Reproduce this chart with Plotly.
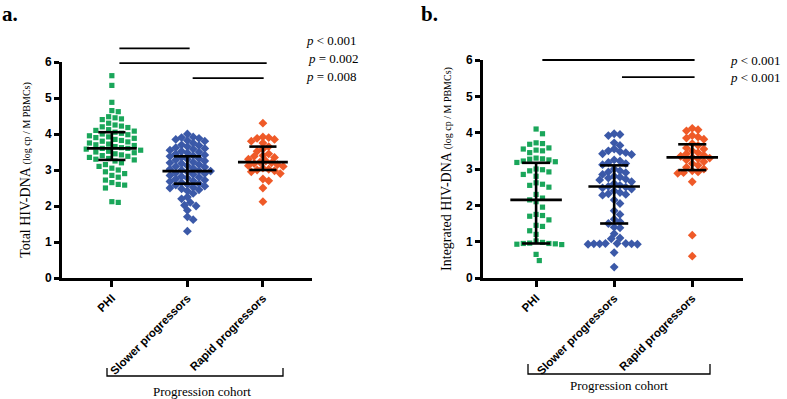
import numpy as np
import plotly.graph_objects as go

categories = ["PHI", "Slower progressors", "Rapid progressors"]
y_ticks = [0, 1, 2, 3, 4, 5, 6]

# Panel a: total HIV-DNA (log cp / M PBMCs)
total_phi = [5.62, 5.35, 4.88, 4.65, 4.62, 4.48, 4.45, 4.42, 4.40, 4.30, 4.25, 4.22, 4.20, 4.18,
             4.12, 4.10, 4.08, 4.05, 4.02, 4.00, 3.98, 3.95, 3.92, 3.90, 3.88, 3.85, 3.82, 3.80,
             3.78, 3.75, 3.72, 3.70, 3.68, 3.65, 3.62, 3.60, 3.60, 3.58, 3.55, 3.52, 3.50, 3.48,
             3.45, 3.42, 3.40, 3.38, 3.35, 3.32, 3.30, 3.28, 3.25, 3.20, 3.15, 3.10, 3.05, 3.00,
             2.95, 2.90, 2.85, 2.80, 2.72, 2.65, 2.60, 2.58, 2.50, 2.12, 2.10]
total_slower = [4.00, 3.92, 3.90, 3.88, 3.85, 3.82, 3.80, 3.75, 3.70, 3.68, 3.65, 3.62, 3.60, 3.58,
                3.55, 3.52, 3.50, 3.48, 3.45, 3.42, 3.40, 3.38, 3.35, 3.32, 3.30, 3.28, 3.25, 3.22,
                3.20, 3.18, 3.15, 3.12, 3.10, 3.08, 3.05, 3.02, 3.00, 2.98, 2.97, 2.95, 2.92, 2.90,
                2.88, 2.85, 2.82, 2.80, 2.78, 2.75, 2.72, 2.70, 2.68, 2.65, 2.62, 2.60, 2.58, 2.55,
                2.52, 2.50, 2.48, 2.45, 2.42, 2.35, 2.25, 2.20, 2.10, 2.02, 2.00, 1.88, 1.70, 1.62, 1.30]
total_rapid = [4.30, 3.92, 3.90, 3.88, 3.85, 3.80, 3.75, 3.65, 3.58, 3.52, 3.45, 3.40, 3.38, 3.35,
               3.30, 3.25, 3.22, 3.20, 3.18, 3.15, 3.12, 3.10, 3.05, 3.02, 3.00, 2.98, 2.95, 2.90,
               2.75, 2.70, 2.50, 2.12]
total_median = [3.60, 2.97, 3.22]
total_q1 = [3.28, 2.62, 3.00]
total_q3 = [4.05, 3.38, 3.65]

# Panel b: integrated HIV-DNA
integ_phi = [4.10, 3.97, 3.72, 3.70, 3.68, 3.58, 3.55, 3.52, 3.50, 3.45, 3.30, 3.28, 3.27, 3.25,
             3.22, 3.20, 3.18, 3.00, 2.98, 2.95, 2.92, 2.85, 2.80, 2.62, 2.58, 2.55, 2.50, 2.30,
             2.20, 2.15, 2.10, 1.95, 1.75, 1.72, 1.70, 1.60, 1.45, 1.42, 1.30, 1.20, 1.02, 0.98,
             0.96, 0.95, 0.95, 0.94, 0.93, 0.92, 0.65, 0.48]
integ_slower = [3.97, 3.95, 3.92, 3.72, 3.65, 3.55, 3.50, 3.48, 3.45, 3.42, 3.40, 3.25, 3.22, 3.18,
                3.15, 3.12, 3.00, 2.95, 2.92, 2.90, 2.85, 2.80, 2.78, 2.75, 2.72, 2.70, 2.65, 2.60,
                2.55, 2.52, 2.50, 2.48, 2.45, 2.40, 2.35, 2.32, 2.30, 2.28, 2.15, 2.05, 1.85, 1.75,
                1.62, 1.55, 1.50, 1.40, 1.38, 1.22, 1.10, 1.08, 0.95, 0.95, 0.95, 0.94, 0.94, 0.94,
                0.93, 0.93, 0.70, 0.30]
integ_rapid = [4.12, 4.08, 4.05, 3.92, 3.88, 3.85, 3.82, 3.70, 3.65, 3.58, 3.55, 3.50, 3.45, 3.42,
               3.38, 3.35, 3.32, 3.30, 3.28, 3.25, 3.20, 3.15, 3.10, 3.05, 3.00, 2.95, 2.92, 2.90,
               2.88, 2.65, 1.18, 0.60]
integ_median = [2.15, 2.52, 3.32]
integ_q1 = [0.95, 1.50, 2.97]
integ_q3 = [3.17, 3.10, 3.68]

# significance bars: (from category, to category, level on value axis)
sig_a = [(0.1, 1.03, 6.38), (0.1, 2.05, 5.97), (1.07, 2.01, 5.55)]
sig_b = [(0.08, 2.03, 6.0), (1.1, 2.03, 5.53)]
p_a = ["<i>p</i> < 0.001", "<i>p</i> = 0.002", "<i>p</i> = 0.008"]
p_b = ["<i>p</i> < 0.001", "<i>p</i> < 0.001"]

colors = ["#1aa65a", "#3b59a8", "#ef5a28"]
symbols = ["square", "diamond", "diamond"]

W, H = 787, 399


def px(rx):
    return rx / W


def py(ry):
    return 1 - ry / H


fig = go.Figure()


def swarm(values, px_x, px_y, d):
    vals = np.array(values, dtype=float)
    order = np.argsort(-vals)
    placed = []
    offs = np.zeros(len(vals))
    cand = [0]
    for k in range(1, 40):
        cand += [k * 0.5, -k * 0.5]
    for i in order:
        yp = vals[i] * px_y
        for k in cand:
            xp = k * d
            ok = True
            for (xq, yq) in placed:
                if (xp - xq) ** 2 + (yp - yq) ** 2 < d * d:
                    ok = False
                    break
            if ok:
                placed.append((xp, yp))
                offs[i] = xp / px_x
                break
    return offs


xdom_a = [px(62), px(312)]
xdom_b = [px(483), px(743)]
ydom_a = [py(278), py(62)]
ydom_b = [py(278), py(60)]
xr_a = [-0.66, 2.65]
xr_b = [-0.68, 2.65]

panels = [
    dict(data=[total_phi, total_slower, total_rapid], med=total_median, q1=total_q1, q3=total_q3,
         xa="x", ya="y", pxx=75.5, pxy=36.0),
    dict(data=[integ_phi, integ_slower, integ_rapid], med=integ_median, q1=integ_q1, q3=integ_q3,
         xa="x2", ya="y2", pxx=78.0, pxy=36.3),
]

for p in panels:
    for ci, vals in enumerate(p["data"]):
        offs = swarm(vals, p["pxx"], p["pxy"], 6.4 if ci == 0 else 5.8)
        fig.add_trace(go.Scatter(
            x=ci + offs, y=vals, mode="markers", xaxis=p["xa"], yaxis=p["ya"],
            marker=dict(symbol=symbols[ci], color=colors[ci], size=5.2 if ci == 0 else 6.8,
                        line=dict(width=0)),
            showlegend=False, hoverinfo="skip", cliponaxis=False))
    for ci in range(3):
        xr, yr = p["xa"], p["ya"]
        lw = 2.6
        fig.add_shape(type="line", xref=xr, yref=yr, x0=ci - 0.33, x1=ci + 0.33,
                      y0=p["med"][ci], y1=p["med"][ci], line=dict(color="black", width=lw))
        fig.add_shape(type="line", xref=xr, yref=yr, x0=ci, x1=ci,
                      y0=p["q1"][ci], y1=p["q3"][ci], line=dict(color="black", width=lw))
        for yy in (p["q1"][ci], p["q3"][ci]):
            fig.add_shape(type="line", xref=xr, yref=yr, x0=ci - 0.18, x1=ci + 0.18,
                          y0=yy, y1=yy, line=dict(color="black", width=lw))


def to_paper_y(v, dom):
    return dom[0] + v / 6.0 * (dom[1] - dom[0])


def to_paper_x(c, dom, rng):
    return dom[0] + (c - rng[0]) / (rng[1] - rng[0]) * (dom[1] - dom[0])


for (a, b, lvl) in sig_a:
    fig.add_shape(type="line", xref="paper", yref="paper",
                  x0=to_paper_x(a, xdom_a, xr_a), x1=to_paper_x(b, xdom_a, xr_a),
                  y0=to_paper_y(lvl, ydom_a), y1=to_paper_y(lvl, ydom_a),
                  line=dict(color="black", width=1.8))
for (a, b, lvl) in sig_b:
    fig.add_shape(type="line", xref="paper", yref="paper",
                  x0=to_paper_x(a, xdom_b, xr_b), x1=to_paper_x(b, xdom_b, xr_b),
                  y0=to_paper_y(lvl, ydom_b), y1=to_paper_y(lvl, ydom_b),
                  line=dict(color="black", width=1.8))

serif = "Liberation Serif, Times New Roman, serif"
sans = "Liberation Sans, Arial, sans-serif"

for i, t in enumerate(p_a):
    fig.add_annotation(text=t, xref="paper", yref="paper", x=px(304 + (2 if i == 1 else 0)),
                       y=py(41 + 17.5 * i),
                       xanchor="left", yanchor="middle", showarrow=False,
                       font=dict(family=serif, size=13, color="black"))
for i, t in enumerate(p_b):
    fig.add_annotation(text=t, xref="paper", yref="paper", x=px(728), y=py(60 + 17.5 * i),
                       xanchor="left", yanchor="middle", showarrow=False,
                       font=dict(family=serif, size=13, color="black"))

fig.add_annotation(text="<b>a.</b>", xref="paper", yref="paper", x=px(0), y=py(0),
                   xanchor="left", yanchor="top", showarrow=False,
                   font=dict(family=serif, size=21, color="black"))
fig.add_annotation(text="<b>b.</b>", xref="paper", yref="paper", x=px(419), y=py(0),
                   xanchor="left", yanchor="top", showarrow=False,
                   font=dict(family=serif, size=21, color="black"))

# brackets for progression cohort
for (x0, x1, yb, ytop, xt, yt) in [(107, 283, 376, 368, 202, 391), (528, 710, 374, 364, 619, 385)]:
    fig.add_shape(type="path", xref="paper", yref="paper",
                  path=f"M {px(x0)} {py(ytop)} L {px(x0)} {py(yb)} L {px(x1)} {py(yb)} L {px(x1)} {py(ytop)}",
                  line=dict(color="black", width=1.3))
    fig.add_annotation(text="Progression cohort", xref="paper", yref="paper", x=px(xt), y=py(yt),
                       xanchor="center", yanchor="middle", showarrow=False,
                       font=dict(family=serif, size=13, color="black"))

axis_common = dict(showline=True, linecolor="black", linewidth=3, ticks="outside",
                   tickcolor="black", showgrid=False, zeroline=False, automargin=False)
xcommon = dict(axis_common, tickmode="array", tickvals=[0, 1, 2],
               ticktext=[f"<b>{c}</b>" for c in categories],
               tickangle=-45, ticklen=6, tickwidth=2.5,
               tickfont=dict(family=sans, size=11.5, color="black"))
ycommon = dict(axis_common, range=[0, 6], tickvals=y_ticks, ticktext=[f"<b>{v}</b>" for v in y_ticks],
               ticklen=5, tickwidth=2.5, tickfont=dict(family=sans, size=12, color="black"))

fig.update_layout(
    width=W, height=H, margin=dict(l=0, r=0, t=0, b=0, autoexpand=False),
    paper_bgcolor="white", plot_bgcolor="white",
    xaxis=dict(xcommon, domain=xdom_a, range=xr_a, anchor="y"),
    yaxis=dict(ycommon, domain=ydom_a, anchor="x",
               title=dict(text="Total HIV-DNA <span style='font-size:10px'>(log cp / M PBMCs)</span>",
                          font=dict(family=serif, size=14, color="black"), standoff=12)),
    xaxis2=dict(xcommon, domain=xdom_b, range=xr_b, anchor="y2"),
    yaxis2=dict(ycommon, domain=ydom_b, anchor="x2",
                title=dict(text="Integrated HIV-DNA <span style='font-size:10px'>(log cp / M PBMCs)</span>",
                           font=dict(family=serif, size=14, color="black"), standoff=12)),
)

fig.write_html("out.html", config={"displayModeBar": False},
               post_script="document.body.style.margin='0';")
